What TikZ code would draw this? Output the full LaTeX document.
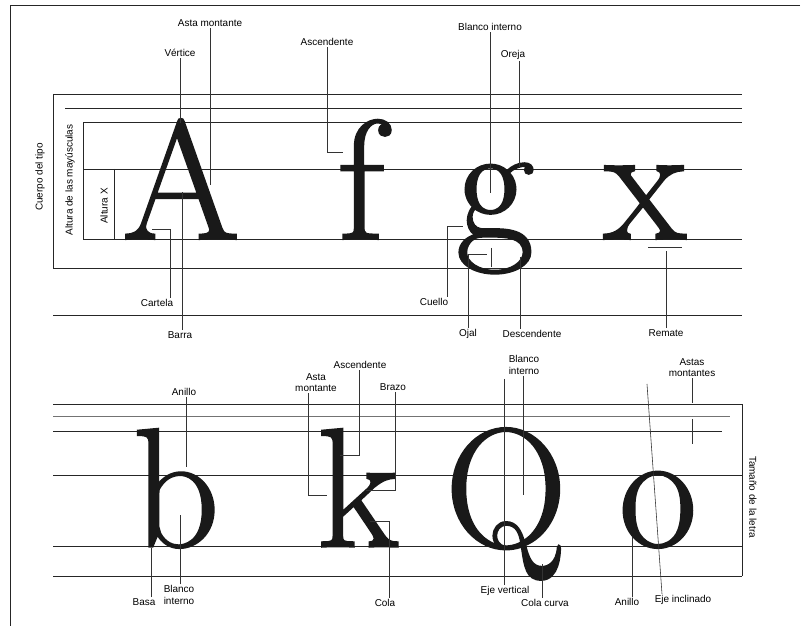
\documentclass[tikz,border=0pt]{standalone}
\usepackage{fontspec}
\setsansfont{Liberation Sans}
\newfontfamily\glyphfont[FakeBold=1.2]{Latin Modern Roman}
\usepackage{tikz}
\usetikzlibrary{positioning,calc}

\begin{document}
\begin{tikzpicture}[x=0.03cm, y=-0.03cm,
  guide/.style={draw=black!85, line width=0.6pt},
  lead/.style={draw=black!80, line width=0.5pt},
  lbl/.style={font=\sffamily\fontsize{8.5}{9.5}\selectfont, inner sep=1pt, align=center},
  glyph/.style={font=\glyphfont\fontsize{145}{145}\selectfont, text=black!90, inner sep=0pt, anchor=base}]
  \useasboundingbox (0,0) rectangle (805,626);
  \draw[guide] (800,5) -- (10,5) -- (10,626);
  % upper block
  \draw[guide] (53,94) -- (742,94);
  \draw[guide] (65,108.7) -- (742,108.7);
  \draw[guide] (83,122.7) -- (742,122.7);
  \draw[guide] (83,169) -- (742,169);
  \draw[guide] (83,239) -- (742,239);
  \draw[guide] (53,268) -- (742,268);
  \draw[guide] (53,315) -- (742,315);
  \draw[guide] (53,94) -- (53,268);
  \draw[guide] (83,122.7) -- (83,239);
  \draw[guide] (114,169) -- (114,239);
  \node[lbl, rotate=90] (cuerpo) at (40,177) {Cuerpo del tipo};
  \node[lbl, rotate=90] (altmay) at (70,180) {Altura de las mayúsculas};
  \node[lbl, rotate=90] (altx) at (104,206) {Altura X};
  \node[glyph] (gA) at (181,239) {A};
  \node[glyph] (gf) at (361,239) {f};
  \node[glyph] (gg) at (495,239) {g};
  \node[glyph] (gx) at (645,239) {x};
  \node[lbl] (asta) at (210,23) {Asta montante};
  \node[lbl] (vert) at (180,53) {Vértice};
  \node[lbl] (asc) at (327,42) {Ascendente};
  \node[lbl] (blanc) at (490,27) {Blanco interno};
  \node[lbl] (oreja) at (513,55) {Oreja};
  \node[lbl] (cart) at (157,303) {Cartela};
  \node[lbl] (barra) at (180,335) {Barra};
  \node[lbl] (cuello) at (434,302) {Cuello};
  \node[lbl] (ojal) at (468,334) {Ojal};
  \node[lbl] (desc) at (532,334) {Descendente};
  \node[lbl] (remate) at (666,333) {Remate};
  \coordinate (astaP) at (210,185);
  \coordinate (vertP) at (180,123);
  \coordinate (ascK) at (327,152);
  \coordinate (ascP) at (343,152);
  \coordinate (blancP) at (490,193);
  \coordinate (orejaP) at (519,167);
  \coordinate (cartK) at (170,229);
  \coordinate (cartP) at (152,229);
  \coordinate (barraP) at (182,192);
  \coordinate (cuelloK) at (447,226);
  \coordinate (cuelloP) at (463,226);
  \coordinate (ojalK) at (468,254);
  \coordinate (ojalP) at (487,254);
  \coordinate (ojalA) at (491,248);
  \coordinate (ojalB) at (491,267);
  \coordinate (descP) at (520,257);
  \coordinate (remP) at (666,251);
  \coordinate (remA) at (648,247);
  \coordinate (remB) at (682,247);
  \draw[lead] (asta) -- (astaP);
  \draw[lead] (vert) -- (vertP);
  \draw[lead] (asc) -- (ascK) -- (ascP);
  \draw[lead] (blanc) -- (blancP);
  \draw[lead] (oreja.south -| orejaP) -- (orejaP);
  \draw[lead] (cart.north -| cartK) -- (cartK) -- (cartP);
  \draw[lead] (barra.north -| barraP) -- (barraP);
  \draw[lead] (cuello.north -| cuelloK) -- (cuelloK) -- (cuelloP);
  \draw[lead] (ojal) -- (ojalK) -- (ojalP);
  \draw[lead] (ojalA) -- (ojalB);
  \draw[lead] (desc.north -| descP) -- (descP);
  \draw[lead] (remate) -- (remP);
  \draw[lead] (remA) -- (remB);
  % lower block
  \draw[guide] (53,404) -- (742,404);
  \draw[guide, draw=black!55, line width=1pt] (53,416.7) -- (730,416.7);
  \draw[guide] (53,431.7) -- (722,431.7);
  \draw[guide] (53,475) -- (742,475);
  \draw[guide] (53,546.7) -- (742,546.7);
  \draw[guide] (53,576) -- (742,576);
  \draw[guide] (742,404) -- (742,576);
  \node[lbl, rotate=-90] (tam) at (753,497) {Tamaño de la letra};
  \node[glyph] (gb) at (176,546.7) {b};
  \node[glyph] (gk) at (358,546.7) {k};
  \node[glyph] (gQ) at (506,546.7) {Q};
  \node[glyph] (go) at (658,546.7) {o};
  \node[lbl] (anillo) at (184,392) {Anillo};
  \node[lbl] (blancb) at (179,595) {Blanco\\interno};
  \node[lbl] (basa) at (144,602) {Basa};
  \node[lbl] (astak) at (316,383) {Asta\\montante};
  \node[lbl] (asck) at (360,365) {Ascendente};
  \node[lbl] (brazo) at (393,387) {Brazo};
  \node[lbl] (cola) at (385,603) {Cola};
  \node[lbl] (blancq) at (524,365) {Blanco\\interno};
  \node[lbl] (ejev) at (505,591) {Eje vertical};
  \node[lbl] (colac) at (545,603) {Cola curva};
  \node[lbl] (astas) at (692,368) {Astas\\montantes};
  \node[lbl] (anillo) at (627,602) {Anillo};
  \node[lbl] (ejei) at (683,600) {Eje inclinado};
  \coordinate (anilloP) at (186,467);
  \coordinate (blancbP) at (180,515);
  \coordinate (basaP) at (151,548);
  \coordinate (astakK) at (308,495);
  \coordinate (astakP) at (327,495);
  \coordinate (asckK) at (359,455);
  \coordinate (asckP) at (340,455);
  \coordinate (brazoK) at (395,490);
  \coordinate (brazoP) at (366,490);
  \coordinate (colaK) at (389,521);
  \coordinate (colaP) at (370,521);
  \coordinate (blancqP) at (523,495);
  \coordinate (ejevP) at (504,379);
  \coordinate (colacP) at (542,564);
  \coordinate (astasP) at (692,403);
  \coordinate (astasA) at (692,419);
  \coordinate (astasB) at (692,444);
  \coordinate (anilloQ) at (632,537);
  \coordinate (ejeiP) at (647,384);
  \coordinate (ejeiK) at (662,592);
  \draw[lead] (186,397) -- (anilloP);
  \draw[lead] (blancb.north -| blancbP) -- (blancbP);
  \draw[lead] (basa.north -| basaP) -- (basaP);
  \draw[lead] (astak.south -| astakK) -- (astakK) -- (astakP);
  \draw[lead] (asck.south -| asckK) -- (asckK) -- (asckP);
  \draw[lead] (brazo.south -| brazoK) -- (brazoK) -- (brazoP);
  \draw[lead] (cola.north -| colaK) -- (colaK) -- (colaP);
  \draw[lead] (blancq.south -| blancqP) -- (blancqP);
  \draw[lead] (ejevP) -- (ejev.north -| ejevP);
  \draw[lead] (colac.north -| colacP) -- (colacP);
  \draw[lead] (astas) -- (astasP);
  \draw[lead] (astasA) -- (astasB);
  \draw[lead] (anillo.north -| anilloQ) -- (anilloQ);
  \draw[lead] (ejeiP) -- (ejei.north -| ejeiK);
\end{tikzpicture}
\end{document}
